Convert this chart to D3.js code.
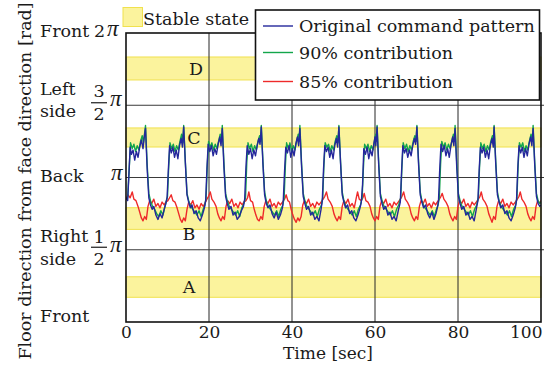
<!DOCTYPE html>
<html>
<head>
<meta charset="utf-8">
<script src="https://d3js.org/d3.v7.min.js"></script>
<style>
body { margin: 0; background: #fff; }
text { font-family: "DejaVu Serif", serif; fill: #1a1a1a; }
</style>
</head>
<body>
<div id="chart-container"></div>
<script>
// all angles are in units of pi, time in seconds
var timeTicks = [0, 20, 40, 60, 80, 100];
var gridAngles = [0.5, 1, 1.5];

var bandNames = ["A", "B", "C", "D"];
var bandLow = [0.171, 0.641, 1.211, 1.675];
var bandHigh = [0.313, 0.791, 1.343, 1.834];

var seriesNames = ["Original command pattern", "90% contribution", "85% contribution"];
var seriesColors = ["#24279b", "#13a64b", "#ee2a2a"];

// original command pattern [t, angle]
var original = [
 [0.0,0.86],[0.4,0.84],[0.7,1.02],[1.0,1.21],[1.3,1.16],[1.7,1.19],[2.1,1.12],[2.5,1.18],[2.9,1.14],[3.3,1.21],[3.7,1.26],[4.1,1.20],[4.4,1.28],[4.7,1.34],[5.1,1.06],[5.5,0.86],[5.9,0.81],[6.3,0.78],[6.7,0.80],[7.2,0.74],[7.7,0.71],[8.2,0.75],[8.7,0.72],[9.2,0.78],[9.6,0.82],
 [9.9,0.86],[10.2,1.05],[10.5,1.22],[10.9,1.17],[11.3,1.21],[11.7,1.14],[12.1,1.19],[12.5,1.13],[12.9,1.22],[13.3,1.27],[13.6,1.21],[13.9,1.35],[14.3,1.10],[14.7,0.88],[15.1,0.83],[15.5,0.79],[15.9,0.81],[16.4,0.75],[16.9,0.77],[17.4,0.72],[17.9,0.70],[18.4,0.74],[18.9,0.79],
 [19.2,0.84],[19.5,1.06],[19.8,1.23],[20.2,1.18],[20.6,1.22],[21.0,1.15],[21.4,1.20],[21.8,1.16],[22.2,1.23],[22.6,1.28],[22.9,1.22],[23.2,1.34],[23.6,1.07],[24.0,0.87],[24.4,0.82],[24.8,0.78],[25.3,0.80],[25.8,0.74],[26.3,0.76],[26.8,0.71],[27.3,0.73],[27.8,0.77],[28.3,0.80],
 [28.6,0.85],[28.9,1.07],[29.2,1.22],[29.6,1.16],[30.0,1.20],[30.4,1.13],[30.8,1.19],[31.2,1.15],[31.6,1.22],[32.0,1.27],[32.3,1.23],[32.6,1.35],[33.0,1.09],[33.4,0.88],[33.8,0.82],[34.2,0.79],[34.7,0.81],[35.2,0.75],[35.7,0.72],[36.2,0.76],[36.7,0.71],[37.2,0.74],[37.7,0.79],
 [37.9,0.84],[38.2,1.04],[38.5,1.21],[38.9,1.17],[39.3,1.22],[39.7,1.14],[40.1,1.20],[40.5,1.15],[40.9,1.23],[41.3,1.28],[41.6,1.22],[41.9,1.34],[42.3,1.08],[42.7,0.87],[43.1,0.82],[43.5,0.78],[44.0,0.80],[44.5,0.74],[45.0,0.76],[45.5,0.71],[46.0,0.73],[46.5,0.70],[47.0,0.78],
 [47.3,0.84],[47.6,1.06],[47.9,1.22],[48.3,1.18],[48.7,1.21],[49.1,1.14],[49.5,1.19],[49.9,1.13],[50.3,1.22],[50.7,1.27],[51.0,1.21],[51.3,1.35],[51.7,1.10],[52.1,0.88],[52.5,0.83],[52.9,0.79],[53.4,0.81],[53.9,0.75],[54.4,0.77],[54.9,0.72],[55.4,0.70],[55.9,0.74],[56.4,0.79],
 [56.7,0.83],[57.0,0.95],[57.3,1.20],[57.7,1.16],[58.1,1.21],[58.5,1.13],[58.9,1.19],[59.3,1.15],[59.7,1.23],[60.0,1.28],[60.2,1.22],[60.5,1.35],[60.9,1.08],[61.3,0.87],[61.7,0.82],[62.1,0.78],[62.6,0.80],[63.1,0.74],[63.6,0.76],[64.1,0.71],[64.6,0.73],[65.1,0.70],[65.6,0.77],
 [66.1,0.83],[66.4,1.04],[66.7,1.22],[67.1,1.17],[67.5,1.20],[67.9,1.14],[68.3,1.19],[68.7,1.15],[69.1,1.22],[69.5,1.27],[69.8,1.23],[70.1,1.35],[70.5,1.09],[70.9,0.88],[71.3,0.83],[71.7,0.79],[72.2,0.81],[72.7,0.75],[73.2,0.72],[73.7,0.76],[74.2,0.71],[74.7,0.75],[75.1,0.80],
 [75.3,0.84],[75.6,1.06],[75.9,1.23],[76.3,1.18],[76.7,1.22],[77.1,1.15],[77.5,1.20],[77.9,1.14],[78.3,1.22],[78.7,1.28],[79.0,1.22],[79.3,1.34],[79.7,1.07],[80.1,0.87],[80.5,0.82],[80.9,0.78],[81.4,0.80],[81.9,0.74],[82.4,0.76],[82.9,0.71],[83.4,0.73],[83.9,0.70],[84.4,0.78],
 [84.8,0.84],[85.1,1.05],[85.4,1.21],[85.8,1.17],[86.2,1.21],[86.6,1.14],[87.0,1.19],[87.4,1.13],[87.8,1.22],[88.2,1.27],[88.5,1.21],[88.7,1.35],[89.1,1.09],[89.5,0.88],[89.9,0.83],[90.3,0.79],[90.8,0.81],[91.3,0.75],[91.8,0.77],[92.3,0.72],[92.8,0.70],[93.3,0.74],[93.8,0.79],
 [94.1,0.84],[94.4,1.06],[94.7,1.22],[95.1,1.17],[95.5,1.21],[95.9,1.14],[96.3,1.20],[96.7,1.15],[97.1,1.23],[97.5,1.28],[97.8,1.22],[98.1,1.34],[98.5,1.08],[98.9,0.87],[99.3,0.82],[99.7,0.80],[100.0,0.81]
];

// 90% contribution
var contrib90 = [
 [0.0,0.85],[0.4,0.86],[0.8,1.08],[1.1,1.24],[1.5,1.20],[1.9,1.23],[2.3,1.18],[2.7,1.22],[3.1,1.19],[3.5,1.25],[3.9,1.29],[4.2,1.24],[4.7,1.36],[5.1,1.09],[5.5,0.89],[5.9,0.84],[6.4,0.80],[6.9,0.78],[7.4,0.75],[7.9,0.73],[8.4,0.77],[8.9,0.74],[9.4,0.80],
 [10.0,0.87],[10.3,1.08],[10.6,1.24],[11.0,1.20],[11.4,1.23],[11.8,1.18],[12.2,1.22],[12.6,1.19],[13.0,1.25],[13.4,1.30],[13.7,1.24],[13.9,1.36],[14.3,1.11],[14.7,0.89],[15.1,0.84],[15.6,0.80],[16.1,0.78],[16.6,0.76],[17.1,0.74],[17.6,0.77],[18.1,0.73],[18.6,0.78],[19.0,0.81],
 [19.3,0.86],[19.6,1.09],[19.9,1.25],[20.3,1.21],[20.7,1.24],[21.1,1.19],[21.5,1.23],[21.9,1.20],[22.3,1.25],[22.7,1.30],[23.0,1.25],[23.2,1.36],[23.6,1.10],[24.0,0.89],[24.4,0.84],[24.9,0.80],[25.4,0.78],[25.9,0.76],[26.4,0.74],[26.9,0.77],[27.4,0.73],[27.9,0.79],[28.4,0.82],
 [28.8,0.86],[29.1,1.10],[29.4,1.24],[29.8,1.20],[30.2,1.23],[30.6,1.18],[31.0,1.22],[31.4,1.19],[31.8,1.25],[32.2,1.29],[32.4,1.25],[32.6,1.36],[33.0,1.11],[33.4,0.90],[33.8,0.84],[34.3,0.80],[34.8,0.78],[35.3,0.76],[35.8,0.74],[36.3,0.77],[36.8,0.73],[37.3,0.78],[37.8,0.81],
 [38.1,0.86],[38.4,1.08],[38.7,1.24],[39.1,1.20],[39.5,1.24],[39.9,1.18],[40.3,1.22],[40.7,1.19],[41.1,1.25],[41.5,1.30],[41.7,1.25],[41.9,1.36],[42.3,1.10],[42.7,0.89],[43.1,0.84],[43.6,0.80],[44.1,0.78],[44.6,0.76],[45.1,0.74],[45.6,0.77],[46.1,0.73],[46.6,0.78],[47.1,0.81],
 [47.4,0.86],[47.7,1.09],[48.0,1.24],[48.4,1.21],[48.8,1.23],[49.2,1.18],[49.6,1.22],[50.0,1.19],[50.4,1.25],[50.8,1.29],[51.1,1.24],[51.3,1.36],[51.7,1.11],[52.1,0.90],[52.5,0.84],[53.0,0.80],[53.5,0.78],[54.0,0.76],[54.5,0.74],[55.0,0.77],[55.5,0.73],[56.0,0.78],[56.5,0.81],
 [56.9,0.86],[57.2,1.06],[57.5,1.23],[57.9,1.20],[58.3,1.23],[58.7,1.18],[59.1,1.22],[59.5,1.19],[59.9,1.26],[60.2,1.30],[60.3,1.25],[60.5,1.36],[60.9,1.10],[61.3,0.89],[61.7,0.84],[62.2,0.80],[62.7,0.78],[63.2,0.76],[63.7,0.74],[64.2,0.77],[64.7,0.73],[65.2,0.78],[65.7,0.81],
 [66.2,0.86],[66.5,1.08],[66.8,1.24],[67.2,1.20],[67.6,1.23],[68.0,1.18],[68.4,1.22],[68.8,1.19],[69.2,1.25],[69.6,1.29],[69.9,1.25],[70.1,1.36],[70.5,1.11],[70.9,0.90],[71.3,0.84],[71.8,0.80],[72.3,0.78],[72.8,0.76],[73.3,0.74],[73.8,0.77],[74.3,0.73],[74.8,0.78],[75.2,0.81],
 [75.5,0.86],[75.8,1.09],[76.1,1.25],[76.5,1.21],[76.9,1.24],[77.3,1.19],[77.7,1.23],[78.1,1.20],[78.5,1.25],[78.9,1.30],[79.1,1.25],[79.3,1.36],[79.7,1.10],[80.1,0.89],[80.5,0.84],[81.0,0.80],[81.5,0.78],[82.0,0.76],[82.5,0.74],[83.0,0.77],[83.5,0.73],[84.0,0.78],[84.5,0.81],
 [84.9,0.86],[85.2,1.08],[85.5,1.24],[85.9,1.20],[86.3,1.23],[86.7,1.18],[87.1,1.22],[87.5,1.19],[87.9,1.25],[88.3,1.29],[88.5,1.25],[88.7,1.36],[89.1,1.11],[89.5,0.90],[89.9,0.84],[90.4,0.80],[90.9,0.78],[91.4,0.76],[91.9,0.74],[92.4,0.77],[92.9,0.73],[93.4,0.78],[93.9,0.81],
 [94.2,0.86],[94.5,1.09],[94.8,1.24],[95.2,1.21],[95.6,1.24],[96.0,1.18],[96.4,1.22],[96.8,1.19],[97.2,1.25],[97.6,1.30],[97.9,1.25],[98.1,1.36],[98.5,1.10],[98.9,0.89],[99.3,0.84],[99.7,0.82],[100.0,0.83]
];

// 85% contribution
var contrib85 = [
 [0.0,0.85],[0.5,0.88],[1.0,0.86],[1.5,0.90],[1.9,0.85],[2.4,0.84],[2.9,0.80],[3.3,0.76],[3.7,0.72],[4.1,0.70],[4.5,0.73],[4.9,0.71],[5.3,0.80],[5.7,0.84],[6.2,0.82],[6.7,0.85],[7.2,0.80],[7.7,0.82],[8.2,0.79],[8.7,0.83],[9.2,0.81],
 [9.6,0.83],[10.1,0.84],[10.5,0.86],[10.9,0.88],[11.3,0.84],[11.8,0.83],[12.3,0.79],[12.7,0.75],[13.1,0.71],[13.5,0.69],[13.9,0.72],[14.3,0.70],[14.7,0.78],[15.1,0.83],[15.6,0.81],[16.1,0.84],[16.6,0.79],[17.1,0.81],[17.6,0.78],[18.1,0.82],[18.6,0.80],
 [19.0,0.82],[19.5,0.85],[19.9,0.87],[20.3,0.90],[20.7,0.85],[21.2,0.83],[21.7,0.80],[22.1,0.75],[22.5,0.72],[22.9,0.70],[23.3,0.73],[23.7,0.71],[24.1,0.80],[24.5,0.84],[25.0,0.82],[25.5,0.85],[26.0,0.80],[26.5,0.82],[27.0,0.79],[27.5,0.83],[28.0,0.81],
 [28.4,0.83],[28.9,0.84],[29.3,0.86],[29.6,0.90],[30.0,0.84],[30.5,0.83],[30.9,0.78],[31.3,0.74],[31.7,0.71],[32.1,0.70],[32.5,0.73],[32.9,0.71],[33.3,0.80],[33.7,0.84],[34.2,0.82],[34.7,0.85],[35.2,0.80],[35.7,0.82],[36.2,0.79],[36.7,0.83],[37.2,0.81],
 [37.7,0.83],[38.2,0.85],[38.6,0.88],[39.0,0.84],[39.4,0.83],[39.8,0.78],[40.2,0.74],[40.6,0.71],[41.0,0.69],[41.4,0.72],[41.8,0.70],[42.2,0.73],[42.6,0.81],[43.0,0.84],[43.5,0.82],[44.0,0.85],[44.5,0.80],[45.0,0.82],[45.5,0.79],[46.0,0.83],[46.5,0.81],
 [47.0,0.83],[47.5,0.85],[47.9,0.87],[48.3,0.90],[48.7,0.85],[49.2,0.83],[49.7,0.80],[50.1,0.75],[50.5,0.72],[50.9,0.70],[51.3,0.73],[51.7,0.71],[52.1,0.80],[52.5,0.84],[53.0,0.82],[53.5,0.85],[54.0,0.80],[54.5,0.82],[55.0,0.79],[55.5,0.86],[55.8,0.90],
 [56.2,0.85],[56.7,0.84],[57.1,0.86],[57.4,0.89],[57.8,0.84],[58.3,0.83],[58.8,0.80],[59.2,0.75],[59.6,0.72],[60.0,0.70],[60.4,0.73],[60.8,0.71],[61.2,0.80],[61.6,0.84],[62.1,0.82],[62.6,0.85],[63.1,0.80],[63.6,0.82],[64.1,0.79],[64.6,0.83],[65.1,0.81],
 [65.6,0.83],[66.1,0.85],[66.5,0.87],[66.9,0.90],[67.3,0.85],[67.8,0.83],[68.3,0.80],[68.7,0.75],[69.1,0.72],[69.5,0.70],[69.9,0.73],[70.3,0.71],[70.7,0.80],[71.1,0.84],[71.6,0.82],[72.1,0.85],[72.6,0.80],[73.1,0.82],[73.6,0.79],[74.1,0.83],[74.6,0.81],
 [75.0,0.83],[75.5,0.85],[75.9,0.87],[76.2,0.89],[76.6,0.85],[77.1,0.83],[77.6,0.80],[78.0,0.75],[78.4,0.72],[78.8,0.70],[79.2,0.73],[79.6,0.71],[80.0,0.80],[80.4,0.84],[80.9,0.82],[81.4,0.85],[81.9,0.80],[82.4,0.82],[82.9,0.79],[83.4,0.83],[83.9,0.81],
 [84.4,0.83],[84.9,0.85],[85.3,0.87],[85.6,0.90],[86.0,0.85],[86.5,0.83],[87.0,0.80],[87.4,0.75],[87.8,0.72],[88.2,0.69],[88.6,0.73],[89.0,0.71],[89.4,0.80],[89.8,0.84],[90.3,0.82],[90.8,0.85],[91.3,0.80],[91.8,0.82],[92.3,0.79],[92.8,0.83],[93.3,0.81],
 [93.8,0.83],[94.3,0.85],[94.7,0.87],[95.0,0.90],[95.4,0.85],[95.9,0.83],[96.4,0.80],[96.8,0.75],[97.2,0.72],[97.6,0.70],[98.0,0.73],[98.4,0.71],[98.8,0.80],[99.2,0.84],[99.6,0.82],[100.0,0.84]
];

var margin = {top: 33, right: 10, bottom: 43, left: 126};
var totalWidth = 551;
var totalHeight = 365;
var width = totalWidth - margin.left - margin.right;   // 415
var height = totalHeight - margin.top - margin.bottom; // 289
var svg, plot, x, y;

//one-time setup of the svg and scales
function setUpChart()
{
    svg = d3.select("#chart-container")
        .append("svg")
        .attr("width", totalWidth)
        .attr("height", totalHeight);

    x = d3.scaleLinear().domain([0, 100]).range([margin.left, margin.left + width]);
    y = d3.scaleLinear().domain([0, 2]).range([margin.top + height, margin.top]);

    svg.append("clipPath").attr("id", "plot-clip")
        .append("rect")
        .attr("x", x(0)).attr("y", y(2))
        .attr("width", width).attr("height", height);

    plot = svg.append("g");
}

//yellow stable state bands with their letters
function drawBands()
{
    plot.selectAll(".band")
        .data(bandNames)
        .enter()
        .append("rect")
        .attr("class", "band")
        .attr("x", x(0))
        .attr("width", width)
        .attr("y", function(d, i) { return y(bandHigh[i]); })
        .attr("height", function(d, i) { return y(bandLow[i]) - y(bandHigh[i]); })
        .style("fill", "#fbf39d")
        .style("stroke", "#f0e14e")
        .style("stroke-width", 1);
}

function drawBandLetters()
{
    var letterX = [189, 189, 194, 196];
    plot.selectAll(".band-letter")
        .data(bandNames)
        .enter()
        .append("text")
        .attr("class", "band-letter")
        .attr("x", function(d, i) { return letterX[i]; })
        .attr("y", function(d, i) { return (y(bandHigh[i]) + y(bandLow[i])) / 2 + (i == 1 ? 15 : 0); })
        .attr("dy", "0.36em")
        .attr("text-anchor", "middle")
        .style("font-size", "17.5px")
        .text(function(d) { return d; });
}

//vertical time grid and horizontal angle grid
function drawGrid()
{
    plot.selectAll(".vgrid")
        .data(timeTicks.slice(1, timeTicks.length - 1))
        .enter()
        .append("line")
        .attr("x1", function(d) { return x(d); })
        .attr("x2", function(d) { return x(d); })
        .attr("y1", y(0)).attr("y2", y(2))
        .style("stroke", "#262626")
        .style("stroke-width", 1);

    plot.selectAll(".hgrid")
        .data(gridAngles)
        .enter()
        .append("line")
        .attr("x1", x(0)).attr("x2", x(100) + 3)
        .attr("y1", function(d) { return y(d); })
        .attr("y2", function(d) { return y(d); })
        .style("stroke", "#3a3a3a")
        .style("stroke-width", 1);
}

function drawSeries()
{
    var line = d3.line()
        .x(function(d) { return x(d[0]); })
        .y(function(d) { return y(d[1]); });

    var all = [contrib85, contrib90, original];
    var colorOf = [seriesColors[2], seriesColors[1], seriesColors[0]];

    plot.append("g")
        .attr("clip-path", "url(#plot-clip)")
        .selectAll("path")
        .data(all)
        .enter()
        .append("path")
        .attr("d", line)
        .style("fill", "none")
        .style("stroke", function(d, i) { return colorOf[i]; })
        .style("stroke-width", 1.4)
        .style("stroke-linejoin", "round");
}

function drawFrame()
{
    plot.append("rect")
        .attr("x", x(0)).attr("y", y(2))
        .attr("width", width).attr("height", height)
        .style("fill", "none")
        .style("stroke", "#111")
        .style("stroke-width", 1.6);
}

//time axis ticks and label
function drawXAxis()
{
    var axis = d3.axisBottom(x).tickValues(timeTicks).tickSize(0).tickPadding(4);
    var g = svg.append("g")
        .attr("transform", "translate(0," + y(0) + ")")
        .call(axis);
    g.select(".domain").remove();
    g.selectAll("text")
        .style("font-family", "DejaVu Serif, serif")
        .style("font-size", "17px")
        .style("fill", "#1a1a1a");
    // last label sits inside the right edge, as in the original
    g.selectAll(".tick text")
        .filter(function(d) { return d === 100; })
        .attr("text-anchor", "end")
        .attr("x", 1);

    svg.append("text")
        .attr("x", 328)
        .attr("y", 359)
        .attr("text-anchor", "middle")
        .style("font-size", "17px")
        .text("Time [sec]");
}

//direction labels on the left, written as in the paper
function drawYLabels()
{
    var fs = "17.5px";
    function put(txt, px, py, anchor)
    {
        return svg.append("text")
            .attr("x", px).attr("y", py)
            .attr("text-anchor", anchor || "start")
            .style("font-size", fs)
            .text(txt);
    }
    function putPi(px, py)
    {
        return put("\u03c0", px, py)
            .style("font-family", "Liberation Serif, serif")
            .style("font-size", "23px")
            .style("font-style", "italic");
    }

    put("Front", 40, y(2) + 4);
    put("2", 94, y(2) + 4);
    putPi(107, y(2) + 3);

    put("Left", 40, y(1.5) - 10);
    put("side", 40, y(1.5) + 12);
    put("3", 99, y(1.5) - 8, "middle");
    put("2", 99, y(1.5) + 15, "middle");
    putPi(110, y(1.5) + 1);

    put("Back", 40, y(1) + 4);
    putPi(111, y(1) + 2);

    put("Right", 40, y(0.5) - 8);
    put("side", 40, y(0.5) + 15);
    put("1", 99, y(0.5) - 7, "middle");
    put("2", 99, y(0.5) + 15, "middle");
    putPi(110, y(0.5) + 2);

    put("Front", 40, y(0));

    svg.selectAll(".frac-bar")
        .data([1.5, 0.5])
        .enter()
        .append("line")
        .attr("x1", 91).attr("x2", 107)
        .attr("y1", function(d) { return y(d) - 2.5; })
        .attr("y2", function(d) { return y(d) - 2.5; })
        .style("stroke", "#1a1a1a")
        .style("stroke-width", 1.2);

    svg.append("text")
        .attr("transform", "translate(31,181) rotate(-90)")
        .attr("text-anchor", "middle")
        .style("font-size", "17.5px")
        .text("Floor direction from face direction [rad]");
}

//stable state swatch and the series legend box
function drawLegends()
{
    svg.append("rect")
        .attr("x", 123).attr("y", 7.5)
        .attr("width", 19.5).attr("height", 19)
        .style("fill", "#fbf39d")
        .style("stroke", "#f0e14e");
    svg.append("text")
        .attr("x", 143).attr("y", 25)
        .style("font-size", "17.5px")
        .text("Stable state");

    var box = svg.append("g");
    box.append("rect")
        .attr("x", 255.5).attr("y", 10)
        .attr("width", 284).attr("height", 90)
        .style("fill", "#fff")
        .style("stroke", "#111")
        .style("stroke-width", 1.6);

    var rowY = [26, 52.5, 81.5];
    box.selectAll(".leg-line")
        .data(seriesNames)
        .enter()
        .append("line")
        .attr("x1", 263).attr("x2", 293)
        .attr("y1", function(d, i) { return rowY[i]; })
        .attr("y2", function(d, i) { return rowY[i]; })
        .style("stroke", function(d, i) { return seriesColors[i]; })
        .style("stroke-width", 1.4);
    box.selectAll(".leg-text")
        .data(seriesNames)
        .enter()
        .append("text")
        .attr("x", 299)
        .attr("y", function(d, i) { return rowY[i]; })
        .attr("dy", "0.36em")
        .style("font-size", "17.5px")
        .text(function(d) { return d; });
}

function chartMain()
{
    setUpChart();
    drawBands();
    drawGrid();
    drawSeries();
    drawBandLetters();
    drawFrame();
    drawXAxis();
    drawYLabels();
    drawLegends();
}

chartMain();
</script>
</body>
</html>
